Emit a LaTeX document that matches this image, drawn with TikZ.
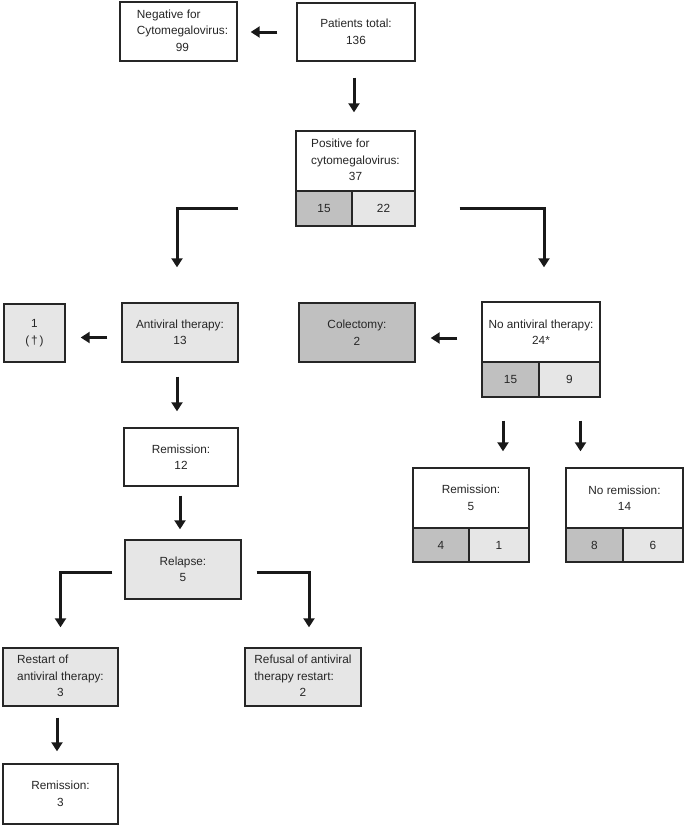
\documentclass[tikz,border=0pt]{standalone}
\usepackage{fontspec}
\setmainfont{Liberation Sans}
\usetikzlibrary{arrows.meta}
\definecolor{dgray}{RGB}{192,192,192}
\definecolor{lgray}{RGB}{230,230,230}
\newcommand{\lblk}[2]{\begin{tabular}{@{}l@{}}#1\\\multicolumn{1}{@{}c@{}}{#2}\end{tabular}}
\newcommand{\lblkr}[2]{\begin{tabular}{@{\hspace{8pt}}l@{}}#1\\\multicolumn{1}{@{\hspace{8pt}}c@{}}{#2}\end{tabular}}
\tikzset{
  box/.style={draw=black!85, line width=1.4pt, inner sep=0pt, align=center,
    text=black!85, font=\fontsize{11.8}{16.5}\selectfont},
  wbox/.style={box, fill=white},
  lbox/.style={box, fill=lgray},
  dbox/.style={box, fill=dgray},
  arr/.style={line width=3pt, black!90, -{Triangle[width=11pt,length=9pt]}},
}
\begin{document}
\begin{tikzpicture}[x=1pt,y=-1pt]
\useasboundingbox (0,0) rectangle (685,825);
% top row
\node[wbox, minimum width=117, minimum height=59] (neg) at (178.5,31.5) {\lblkr{Negative for\\Cytomegalovirus:}{99}};
\node[wbox, minimum width=118, minimum height=58] (pat) at (356,32) {Patients total:\\136};
% positive
\node[wbox, minimum width=119, minimum height=60] (pos) at (355.5,161) {\lblk{Positive for\\cytomegalovirus:}{37}};
\node[dbox, minimum width=56, minimum height=35] (pos15) at (324,208.5) {15};
\node[lbox, minimum width=63, minimum height=35] (pos22) at (383.5,208.5) {22};
% second level
\node[lbox, minimum width=61, minimum height=58] (dead) at (34.5,333) {1\\(\,\textdagger\,)};
\node[lbox, minimum width=116, minimum height=59] (av) at (180,332.5) {Antiviral therapy:\\13};
\node[dbox, minimum width=116, minimum height=59] (col) at (357,332.5) {Colectomy:\\2};
\node[wbox, minimum width=118, minimum height=60] (noav) at (541,332) {No antiviral therapy:\\24*};
\node[dbox, minimum width=57, minimum height=35] (noav15) at (510.5,379.5) {15};
\node[lbox, minimum width=61, minimum height=35] (noav9) at (569.5,379.5) {9};
% right bottom
\node[wbox, minimum width=116, minimum height=60] (rem5) at (471,498) {Remission:\\5};
\node[dbox, minimum width=56, minimum height=34] (rem5a) at (441,545) {4};
\node[lbox, minimum width=60, minimum height=34] (rem5b) at (499,545) {1};
\node[wbox, minimum width=117, minimum height=60] (norem) at (624.5,498) {No remission:\\14};
\node[dbox, minimum width=57, minimum height=34] (norem8) at (594.5,545) {8};
\node[lbox, minimum width=60, minimum height=34] (norem6) at (653,545) {6};
% left branch
\node[wbox, minimum width=114, minimum height=58] (rem12) at (181,457) {Remission:\\12};
\node[lbox, minimum width=116, minimum height=59] (rel) at (183,569.5) {Relapse:\\5};
\node[lbox, minimum width=115, minimum height=58] (rst) at (60.5,677) {\lblk{Restart of\\antiviral therapy:}{3}};
\node[lbox, minimum width=116, minimum height=58] (ref) at (303,677) {\lblk{Refusal of antiviral\\therapy restart:}{2}};
\node[wbox, minimum width=115, minimum height=60] (rem3) at (60.5,794) {Remission:\\3};
% connectors
\draw[arr, shorten <=19pt, shorten >=13pt] (pat.west) -- (pat.west -| neg.east);
\draw[arr, shorten <=16pt, shorten >=18pt] ([xshift=-2pt]pat.south) -- ([xshift=-2pt]pat.south |- pos.north);
\draw[arr, shorten <=57pt, shorten >=35pt] (pos15.west) -| ([xshift=-3pt]av.north);
\draw[arr, shorten <=44pt, shorten >=34pt] (pos22.east) -| ([xshift=3pt]noav.north);
\draw[arr, shorten <=14pt, shorten >=15pt] ([yshift=-5pt]av.west) -- ([yshift=-5pt]av.west -| dead.east);
\draw[arr, shorten <=24pt, shorten >=15pt] ([yshift=-6pt]noav.west) -- ([yshift=-6pt]noav.west -| col.east);
\draw[arr, shorten <=23pt, shorten >=16pt] ([xshift=-7.5pt]noav15.south) -- ([xshift=-7.5pt]noav15.south |- rem5.north);
\draw[arr, shorten <=23pt, shorten >=16pt] ([xshift=11pt]noav9.south) -- ([xshift=11pt]noav9.south |- norem.north);
\draw[arr, shorten <=14pt, shorten >=16pt] ([xshift=-3pt]av.south) -- ([xshift=-3pt]av.south |- rem12.north);
\draw[arr, shorten <=9pt, shorten >=10pt] ([xshift=-1pt]rem12.south) -- ([xshift=-1pt]rem12.south |- rel.north);
\draw[arr, shorten <=12pt, shorten >=20pt] ([yshift=-2.5pt]rel.west) -| (rst.north);
\draw[arr, shorten <=15pt, shorten >=20pt] ([yshift=-2.5pt]rel.east) -| ([xshift=6pt]ref.north);
\draw[arr, shorten <=11pt, shorten >=12pt] ([xshift=-3.5pt]rst.south) -- ([xshift=-3.5pt]rst.south |- rem3.north);
\end{tikzpicture}
\end{document}
